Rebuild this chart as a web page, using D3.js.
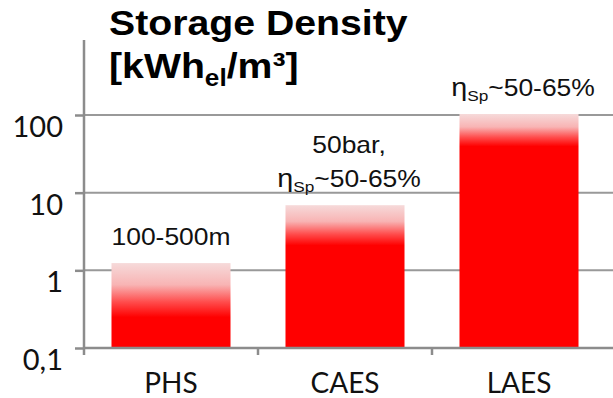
<!DOCTYPE html>
<html>
<head>
<meta charset="utf-8">
<script src="https://cdn.jsdelivr.net/npm/d3@7"></script>
<style>
  body { margin: 0; background: #fff; }
  svg { display: block; }
</style>
</head>
<body>
<div class="chart"></div>
<script>
// data
let categories = ["PHS", "CAES", "LAES"];
let densities = [1.24, 6.9, 103];           // kWh_el / m3
let tickValues = [0.1, 1, 10, 100];
let tickLabels = ["0,1", "1", "10", "100"];
let notes = [
  [{ t: "100-500m" }],
  [{ t: "50bar," }, { eta: true, t: "~50-65%" }],
  [{ eta: true, t: "~50-65%" }]
];

let width = 613, height = 398;
let margin = { top: 115, left: 84, right: 7, bottom: 50 };

let svg = d3.select(".chart").append("svg")
  .attr("width", width)
  .attr("height", height);

let x = d3.scaleBand().domain(categories)
  .range([margin.left, width - margin.right]).padding(0);
let barW = x.bandwidth() * 0.684;

let y = d3.scaleLog().domain([0.1, 100])
  .range([height - margin.bottom, margin.top]);

// gridlines
svg.append("g").selectAll("line")
  .data(tickValues.slice(1))
  .join("line")
  .attr("x1", margin.left).attr("x2", width)
  .attr("y1", d => y(d)).attr("y2", d => y(d))
  .attr("stroke", "#999").attr("stroke-width", 2);

// gradients, one per bar
let defs = svg.append("defs");
densities.forEach(function(v, i) {
  let h = y(0.1) - y(v);
  let fade = (20 + 2900 / h) / h;
  let g = defs.append("linearGradient")
    .attr("id", "fade" + i)
    .attr("x1", 0).attr("y1", 0).attr("x2", 0).attr("y2", 1);
  [[0, "#f6dada"], [0.4, "#f8b4b4"], [0.72, "#ff4c4c"], [1, "#ff0000"]].forEach(function(s) {
    g.append("stop").attr("offset", s[0] * fade).attr("stop-color", s[1]);
  });
  g.append("stop").attr("offset", 1).attr("stop-color", "#ff0000");
});

svg.append("g").selectAll("rect")
  .data(categories)
  .join("rect")
  .attr("x", d => x(d) + (x.bandwidth() - barW) / 2)
  .attr("width", barW)
  .attr("y", (d, i) => y(densities[i]))
  .attr("height", (d, i) => y(0.1) - y(densities[i]))
  .attr("fill", (d, i) => "url(#fade" + i + ")");

// x axis line + ticks at band boundaries
let axisColor = "#8c8c8c";
svg.append("line")
  .attr("x1", margin.left).attr("x2", width)
  .attr("y1", y(0.1)).attr("y2", y(0.1))
  .attr("stroke", axisColor).attr("stroke-width", 2.5);

svg.append("g").selectAll("line")
  .data(categories.slice(1))
  .join("line")
  .attr("x1", d => x(d)).attr("x2", d => x(d))
  .attr("y1", y(0.1)).attr("y2", y(0.1) + 7)
  .attr("stroke", axisColor).attr("stroke-width", 2.5);

// y axis
let yAxis = d3.axisLeft(y)
  .tickValues(tickValues)
  .tickSize(9)
  .tickPadding(12)
  .tickFormat((d, i) => tickLabels[i]);

let ya = svg.append("g")
  .attr("transform", "translate(" + margin.left + ",0)")
  .call(yAxis);
ya.select(".domain").remove();
ya.selectAll(".tick line").attr("stroke", axisColor).attr("stroke-width", 2.5);
ya.selectAll(".tick text")
  .attr("font-family", "Lato, 'Open Sans', sans-serif")
  .attr("font-size", 29)
  .attr("fill", "#111")
  .attr("dy", "0.74em");

svg.append("line")
  .attr("x1", margin.left).attr("x2", margin.left)
  .attr("y1", 40).attr("y2", y(0.1) + 7)
  .attr("stroke", axisColor).attr("stroke-width", 2.5);

// category labels
svg.append("g").selectAll("text")
  .data(categories)
  .join("text")
  .attr("x", d => x(d) + x.bandwidth() / 2)
  .attr("y", y(0.1) + 45)
  .attr("text-anchor", "middle")
  .attr("font-family", "Lato, 'Open Sans', sans-serif")
  .attr("font-size", 28)
  .attr("fill", "#111")
  .text(d => d);

// notes above the bars (the source text is drawn a bit wide)
categories.forEach(function(c, i) {
  let lines = notes[i];
  let cx = x(c) + x.bandwidth() / 2 + (lines[lines.length - 1].eta ? 4 : 0);
  let top = y(densities[i]);
  lines.forEach(function(ln, j) {
    let base = top - 18 - (lines.length - 1 - j) * 34;
    let t = svg.append("g")
      .attr("transform", "translate(" + cx + "," + base + ") scale(1.15,1)")
      .append("text")
      .attr("text-anchor", "middle")
      .attr("font-family", "'Liberation Sans', Arial, sans-serif")
      .attr("font-size", 23)
      .attr("fill", "#111");
    if (ln.eta) {
      t.append("tspan").attr("font-size", 25).text("η");
      t.append("tspan").attr("font-size", 15).attr("dy", 5).text("Sp");
      t.append("tspan").attr("dy", -5).text(ln.t);
    } else {
      t.text(ln.t);
    }
  });
});

// title
let title = svg.append("g")
  .attr("transform", "translate(109,0) scale(1.09,1)")
  .attr("font-family", "'Liberation Sans', Arial, sans-serif")
  .attr("font-weight", "bold")
  .attr("fill", "#000");
title.append("text").attr("x", 0).attr("y", 35)
  .attr("font-size", 36).text("Storage Density");
let t2 = title.append("text").attr("x", 0).attr("y", 78).attr("font-size", 36);
t2.append("tspan").text("[kWh");
t2.append("tspan").attr("font-size", 24).attr("dy", 8).text("el");
t2.append("tspan").attr("dy", -8).text("/m³]");
</script>
</body>
</html>
